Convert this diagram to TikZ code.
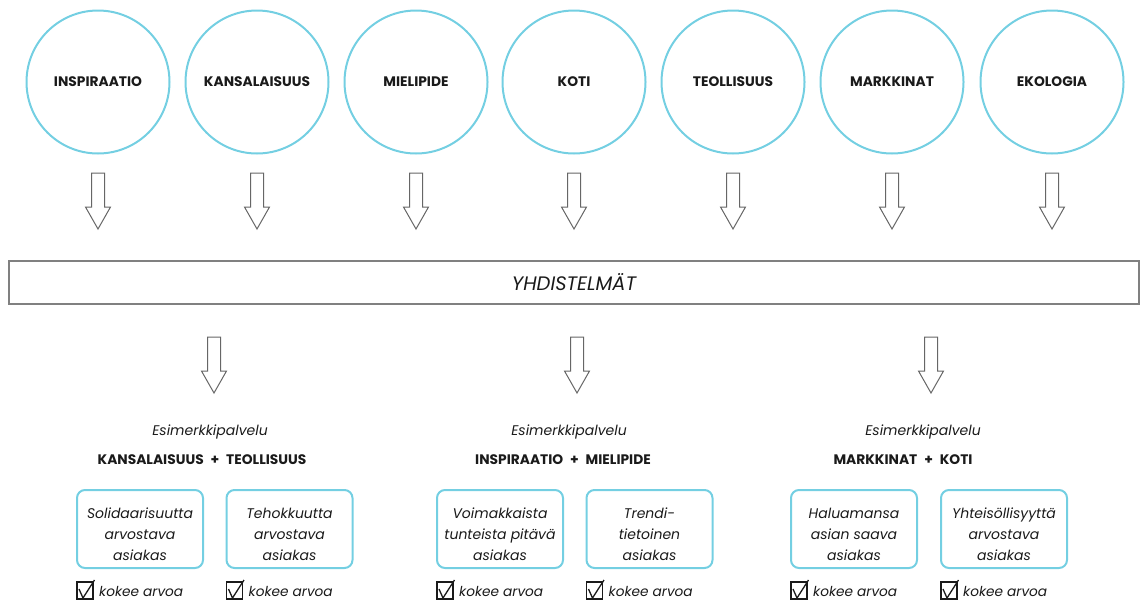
\documentclass[tikz,border=0pt]{standalone}
\usepackage{fontspec}
\setmainfont{Poppins}
\definecolor{cyanc}{HTML}{74CFE2}
\definecolor{txt}{HTML}{1A1A1A}
\definecolor{arrowc}{HTML}{666666}
\definecolor{barc}{HTML}{808080}
\newcommand{\topstrut}{\rule{0pt}{21pt}}
\tikzset{
  circ/.style={circle, draw=cyanc, line width=2pt, minimum size=143pt, inner sep=0pt,
    text=txt, font=\bfseries\fontsize{13.8}{15}\selectfont},
  cbox/.style={draw=cyanc, line width=2pt, rounded corners=8pt, minimum width=126pt,
    minimum height=78pt, align=center, inner sep=2pt, text=txt,
    font=\itshape\fontsize{14}{21}\selectfont},
  combo/.style={text=txt, font=\bfseries\fontsize{13.8}{15}\selectfont},
  esim/.style={text=txt, font=\itshape\fontsize{14}{16}\selectfont},
  kok/.style={text=txt, font=\itshape\fontsize{13.7}{15}\selectfont, anchor=west, inner sep=0pt},
  arrowline/.style={draw=arrowc, line width=1pt, fill=white, line join=miter},
  blockarrow/.pic={\draw[arrowline] (-6.5,0) -- (6.5,0) -- (6.5,34) -- (12.5,34) -- (0,56) -- (-12.5,34) -- (-6.5,34) -- cycle;},
  checkmark/.pic={
    \draw[txt, line width=1.3pt] (0,0) rectangle (16,17);
    \draw[txt, line width=1.3pt, line join=round] (2,7) -- (6,16) -- (17.5,-2);
  }
}
\begin{document}
\begin{tikzpicture}[x=1pt,y=-1pt]
\useasboundingbox (0,0) rectangle (1142,603);
% circles
\node[circ] (c1) at (98,82) {INSPIRAATIO};
\node[circ] (c2) at (257,82) {KANSALAISUUS};
\node[circ] (c3) at (416,82) {MIELIPIDE};
\node[circ] (c4) at (574,82) {KOTI};
\node[circ] (c5) at (733,82) {TEOLLISUUS};
\node[circ] (c6) at (892,82) {MARKKINAT};
\node[circ] (c7) at (1052,82) {EKOLOGIA};
% top arrows
\coordinate (toprow) at (0,173);
\foreach \c in {c1,c2,c3,c4,c5,c6,c7}{
  \pic at (\c |- toprow) {blockarrow};
}
% combination bar
\node[draw=barc, line width=1.3pt, minimum width=1130pt, minimum height=43pt, inner sep=0pt,
  text=txt, font=\itshape\fontsize{19.5}{22}\selectfont] (bar) at (574,282.5) {YHDISTELMÄT};
% lower arrows
\coordinate (a1) at (214,337);
\coordinate (a2) at (577,337);
\coordinate (a3) at (931,337);
\pic at (a1) {blockarrow};
\pic at (a2) {blockarrow};
\pic at (a3) {blockarrow};
% group texts
\node[esim] (e1) at (210,432) {Esimerkkipalvelu};
\node[esim] (e2) at (569,432) {Esimerkkipalvelu};
\node[esim] (e3) at (923,432) {Esimerkkipalvelu};
\node[combo] (k1) at (202,460) {KANSALAISUUS\hspace{0.5em}+\hspace{0.5em}TEOLLISUUS};
\node[combo] (k2) at (563,460) {INSPIRAATIO\hspace{0.5em}+\hspace{0.5em}MIELIPIDE};
\node[combo] (k3) at (903,460) {MARKKINAT\hspace{0.5em}+\hspace{0.5em}KOTI};
% boxes
\node[cbox] (b1) at (140,529) {\topstrut Solidaarisuutta\\arvostava\\asiakas};
\node[cbox] (b2) at (289.5,529) {\topstrut Tehokkuutta\\arvostava\\asiakas};
\node[cbox] (b3) at (500,529) {\topstrut Voimakkaista\\tunteista pitävä\\asiakas};
\node[cbox] (b4) at (649.5,529) {\topstrut Trendi-\\tietoinen\\asiakas};
\node[cbox] (b5) at (854,529) {\topstrut Haluamansa\\asian saava\\asiakas};
\node[cbox] (b6) at (1004,529) {\topstrut Yhteisöllisyyttä\\arvostava\\asiakas};
% checks
\foreach \b in {b1,b2,b3,b4,b5,b6}{
  \pic at ([shift={(1,13)}]\b.south west) {checkmark};
  \node[kok] at ([shift={(23,22)}]\b.south west) {kokee arvoa};
}
\end{tikzpicture}
\end{document}
